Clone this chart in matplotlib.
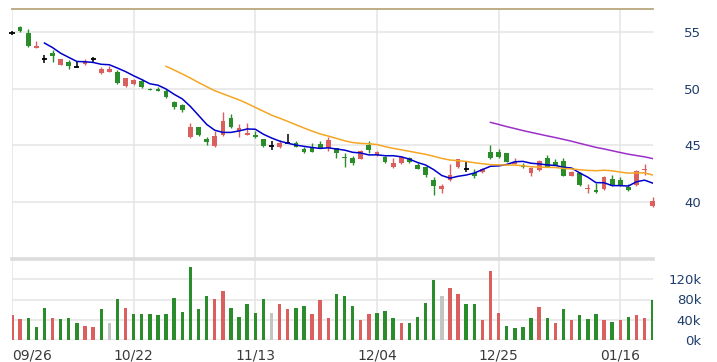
import matplotlib
matplotlib.use('Agg')
import matplotlib.pyplot as plt
import numpy as np
import pandas as pd

# daily candles (80 trading days)
opens = [54.9, 55.45, 54.85, 53.6, 52.57, 53.1, 52.1, 52.33, 51.92, 52.13,
         52.6, 51.35, 51.5, 51.48, 50.25, 50.4, 50.7, 49.97, 49.97, 49.8,
         48.84, 48.58, 45.7, 46.58, 45.55, 44.94, 45.91, 47.38, 46.3, 45.95,
         45.92, 45.53, 44.94, 44.82, 45.2, 45.23, 44.65, 44.82, 45.1, 44.76,
         44.76, 44.0, 43.88, 43.82, 45.05, 44.17, 44.0, 43.06, 43.41, 43.85,
         43.24, 43.12, 41.97, 41.13, 41.95, 43.06, 42.94, 42.59, 42.65, 44.44,
         44.44, 44.3, 43.4, 43.27, 42.59, 42.82, 43.85, 43.56, 43.65, 42.3,
         42.59, 41.15, 41.06, 41.13, 42.0, 41.95, 41.36, 41.5, 42.8, 39.66]
highs = [55.05, 55.5, 55.2, 54.2, 52.95, 53.35, 52.6, 52.5, 52.45, 52.57,
         52.8, 51.9, 51.98, 51.65, 50.95, 50.88, 50.8, 50.05, 50.15, 50.0,
         48.9, 48.65, 47.0, 46.62, 45.7, 46.3, 47.96, 47.76, 46.85, 46.95,
         46.25, 45.6, 45.35, 45.47, 46.0, 45.4, 44.83, 45.17, 45.4, 45.7,
         44.8, 44.3, 44.06, 44.6, 45.4, 44.5, 44.05, 43.86, 44.05, 44.0,
         43.47, 43.2, 42.18, 41.6, 43.35, 43.8, 43.56, 42.88, 43.0, 45.03,
         44.65, 44.35, 43.9, 43.45, 43.1, 43.75, 44.15, 43.8, 43.85, 42.75,
         42.7, 41.6, 41.7, 42.3, 42.39, 42.2, 41.6, 42.8, 43.35, 40.42]
lows = [54.75, 55.0, 53.7, 53.58, 52.27, 52.3, 52.08, 51.75, 51.9, 52.1,
        52.36, 51.3, 51.48, 50.4, 50.1, 50.35, 50.05, 49.85, 49.78, 49.2,
        48.2, 47.95, 45.65, 45.85, 45.03, 44.9, 45.85, 46.55, 45.75, 45.9,
        45.68, 44.9, 44.59, 44.8, 45.15, 44.85, 44.35, 44.4, 44.74, 44.52,
        43.88, 43.06, 43.25, 43.8, 44.3, 44.1, 43.45, 43.03, 43.38, 43.41,
        42.9, 42.18, 40.62, 40.78, 41.85, 43.03, 42.7, 42.15, 42.6, 43.8,
        43.9, 43.5, 43.38, 43.05, 42.3, 42.78, 43.1, 43.25, 42.28, 42.28,
        41.45, 40.85, 40.85, 41.1, 41.4, 41.45, 41.0, 41.45, 42.4, 39.6]
closes = [54.9, 55.05, 53.78, 53.72, 52.57, 52.9, 52.57, 51.95, 51.92, 52.45,
          52.6, 51.75, 51.75, 50.46, 50.9, 50.75, 50.1, 49.9, 49.82, 49.22,
          48.4, 48.1, 46.58, 45.9, 45.26, 45.82, 47.14, 46.58, 46.55, 46.12,
          45.7, 44.94, 44.94, 45.17, 45.2, 44.88, 44.38, 44.43, 44.76, 45.47,
          44.35, 43.9, 43.47, 44.47, 44.59, 44.41, 43.5, 43.47, 44.0, 43.56,
          42.94, 42.39, 41.42, 41.42, 42.39, 43.77, 42.94, 42.3, 42.94, 43.85,
          43.94, 43.56, 43.5, 43.1, 43.03, 43.65, 43.12, 43.27, 42.3, 42.68,
          41.5, 41.25, 40.88, 42.24, 41.42, 41.5, 41.06, 42.77, 42.94, 40.12]

# volume in thousands, and day direction vs previous close (u/d/f)
volume_k = [48.7, 40.7, 43.3, 25.3, 63.3, 43.3, 40.7, 43.3, 33.3, 28,
            26, 60.7, 33.3, 80.7, 63.3, 51.3, 51.3, 51.3, 48.7, 50.7,
            83.3, 56, 144, 61.3, 86, 80.7, 96, 63.3, 46, 71.3,
            54, 80.7, 54, 71.3, 60.7, 63.3, 68, 50.7, 78.7, 43.3,
            91.3, 86, 68, 38.7, 51.3, 54, 58, 43.3, 33.3, 33.3,
            46, 73.3, 118, 86, 103.3, 91.3, 71.3, 71.3, 38.7, 136,
            54, 28, 23.3, 26, 43.3, 66, 43.3, 33.3, 61.3, 38.7,
            48.7, 41.3, 51.3, 38.7, 36, 38.7, 46, 48.7, 43.3, 78.7]
vol_dir = list("uudddudddu" "udfduddddd" "ddddduuddd" "ddfuudduuu"
               "ddduudddud" "dddfuudduu" "uddddududu" "dddududuud")

date_ticks = [0, 15, 30, 45, 60, 75]
date_labels = ['09/26', '10/22', '11/13', '12/04', '12/25', '01/16']
price_ticks = [40, 45, 50, 55]
vol_ticks = [0, 40, 80, 120]

RED = '#d9605e'
GREEN = '#2b8c2b'
GRID = '#e4e4e4'

n = len(closes)
x = np.arange(n)
o = np.array(opens); h = np.array(highs); l = np.array(lows); c = np.array(closes)

fig = plt.figure(figsize=(7.17, 3.62), dpi=100)
ax = fig.add_axes([12/717, 103/362, 640.7/717, 250/362])
axv = fig.add_axes([12/717, 22/362, 640.7/717, 81/362])

for a in (ax, axv):
    for s in a.spines.values():
        s.set_visible(False)
    a.set_xlim(0, n - 1)
    a.set_xticks(date_ticks)
    a.grid(True, color=GRID, lw=1.1)
    a.set_axisbelow(True)
    a.yaxis.tick_right()
    a.tick_params(length=0)

# price panel
ax.set_ylim(35, 57)
ax.spines['top'].set_visible(True)
ax.spines['top'].set_color('#b9a67e')
ax.spines['top'].set_linewidth(1.3)
ax.set_yticks(price_ticks)
ax.set_xticklabels([])

up = c > o
doji = c == o
cols = np.where(up, RED, GREEN)

ax.vlines(x[~doji], l[~doji], h[~doji], colors=cols[~doji], lw=1.0, zorder=2, clip_on=False)
body_bot = np.minimum(o, c)
body_h = np.maximum(np.abs(c - o), 0.06)
ax.bar(x[~doji], body_h[~doji], bottom=body_bot[~doji], width=0.58,
       color=cols[~doji], zorder=3, clip_on=False)
ax.vlines(x[doji], l[doji], h[doji], colors='black', lw=1.1, zorder=3, clip_on=False)
ax.hlines(c[doji], x[doji] - 0.32, x[doji] + 0.32, colors='black', lw=1.3, zorder=3, clip_on=False)

cs = pd.Series(closes)
ax.plot(x, cs.rolling(5).mean(), color='#0000cc', lw=1.1, zorder=4)
ax.plot(x, cs.rolling(20).mean(), color='#f5a623', lw=1.1, zorder=4)
ax.plot(x, cs.rolling(60).mean(), color='#9b30c8', lw=1.1, zorder=4)

# volume panel
axv.set_ylim(0, 160)
axv.set_yticks(vol_ticks)
axv.set_yticklabels([f'{v}k' for v in vol_ticks])
axv.axhline(160, color='#dcdcdc', lw=2.6, clip_on=False)
vcols = [RED if d == 'u' else GREEN if d == 'd' else '#c4c4c4' for d in vol_dir]
axv.bar(x, volume_k, width=0.42, color=vcols, zorder=3)
axv.set_xticklabels(date_labels)
for i, t in enumerate(axv.get_xticklabels()):
    t.set_ha('left' if i == 0 else 'center')
axv.tick_params(axis='x', pad=6, labelsize=10, labelcolor='#3a3a3a')

for a in (ax, axv):
    a.tick_params(axis='y', pad=35, labelsize=9.5, labelcolor='#1f3d6b')
    for t in a.get_yticklabels():
        t.set_ha('right')

fig.savefig('out.png', dpi=100)
